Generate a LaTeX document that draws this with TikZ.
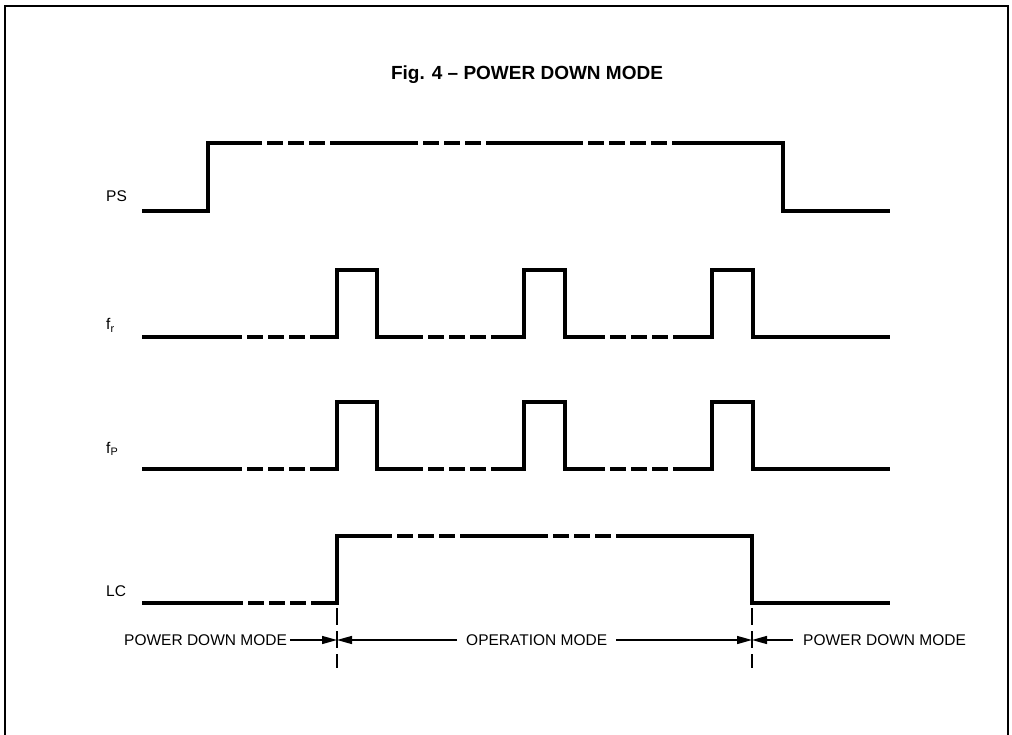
\documentclass[tikz,border=0pt]{standalone}
\usepackage{fontspec}
\setmainfont{Liberation Sans}
\usetikzlibrary{arrows.meta}
\begin{document}
\begin{tikzpicture}[x=1pt,y=-1pt,
  wave/.style={line width=3.6pt, line join=miter, line cap=butt},
  wdash/.style={wave, dash pattern=on 16pt off 5pt, dash phase=16pt},
  lbl/.style={font=\fontsize{15.5}{18}\selectfont, inner sep=0pt},
  marker/.style={line width=2pt, dash pattern=on 17pt off 6pt},
  arr/.style={line width=1.4pt, -{Triangle[length=15pt,width=8pt]}},
  frame/.style={line width=2.2pt}]
\useasboundingbox (0,0) rectangle (1012,735);
% frame
\draw[frame] (5,745) -- (5,6) -- (1008,6) -- (1008,745);
% title
\node[font=\bfseries\fontsize{19}{22}\selectfont, anchor=base, inner sep=0pt] (title) at (527,80) {Fig. 4 \textendash\ POWER DOWN MODE};
% signal labels
\node[lbl, anchor=west] (ps) at (106,196) {PS};
\node[lbl, anchor=base west] (fr) at (106,330) {f\textsubscript{r}};
\node[lbl, anchor=base west] (fp) at (106,453) {f\textsubscript{P}};
\node[lbl, anchor=west] (lc) at (106,591) {LC};
% PS
\draw[wave] (142,211) -- (208,211) -- (208,143) -- (262,143);
\draw[wdash] (262,143) -- (332,143);
\draw[wave] (332,143) -- (418,143);
\draw[wdash] (418,143) -- (500,143);
\draw[wave] (500,143) -- (583,143);
\draw[wdash] (583,143) -- (679,143);
\draw[wave] (679,143) -- (783,143) -- (783,211) -- (890,211);
% f_r
\draw[wave] (142,337) -- (242,337);
\draw[wdash] (242,337) -- (312,337);
\draw[wave] (312,337) -- (337,337) -- (337,270) -- (377,270) -- (377,337) -- (423,337);
\draw[wdash] (423,337) -- (505,337);
\draw[wave] (505,337) -- (524,337) -- (524,270) -- (565,270) -- (565,337) -- (605,337);
\draw[wdash] (605,337) -- (676,337);
\draw[wave] (676,337) -- (712,337) -- (712,270) -- (753,270) -- (753,337) -- (890,337);
% f_P
\draw[wave] (142,469) -- (242,469);
\draw[wdash] (242,469) -- (312,469);
\draw[wave] (312,469) -- (337,469) -- (337,402) -- (377,402) -- (377,469) -- (423,469);
\draw[wdash] (423,469) -- (505,469);
\draw[wave] (505,469) -- (524,469) -- (524,402) -- (565,402) -- (565,469) -- (605,469);
\draw[wdash] (605,469) -- (676,469);
\draw[wave] (676,469) -- (712,469) -- (712,402) -- (753,402) -- (753,469) -- (890,469);
% LC
\draw[wave] (142,603) -- (243,603);
\draw[wdash] (243,603) -- (312,603);
\draw[wave] (312,603) -- (337,603) -- (337,536) -- (392,536);
\draw[wdash] (392,536) -- (462,536);
\draw[wave] (462,536) -- (548,536);
\draw[wdash] (548,536) -- (620,536);
\draw[wave] (620,536) -- (752,536) -- (752,603) -- (890,603);
% mode markers
\coordinate (m1) at (337,640);
\coordinate (m2) at (752,640);
\draw[marker] (337,608) -- (337,668);
\draw[marker] (752,608) -- (752,668);
\node[lbl, anchor=west] (pdL) at (124,640) {POWER DOWN MODE};
\node[lbl, anchor=west] (op) at (466,640) {OPERATION MODE};
\node[lbl, anchor=west] (pdR) at (803,640) {POWER DOWN MODE};
\draw[arr] ([xshift=3pt]pdL.east) -- (m1);
\draw[arr] ([xshift=-9pt]op.west) -- (m1);
\draw[arr] ([xshift=9pt]op.east) -- (m2);
\draw[arr] ([xshift=-10pt]pdR.west) -- (m2);
\end{tikzpicture}
\end{document}
